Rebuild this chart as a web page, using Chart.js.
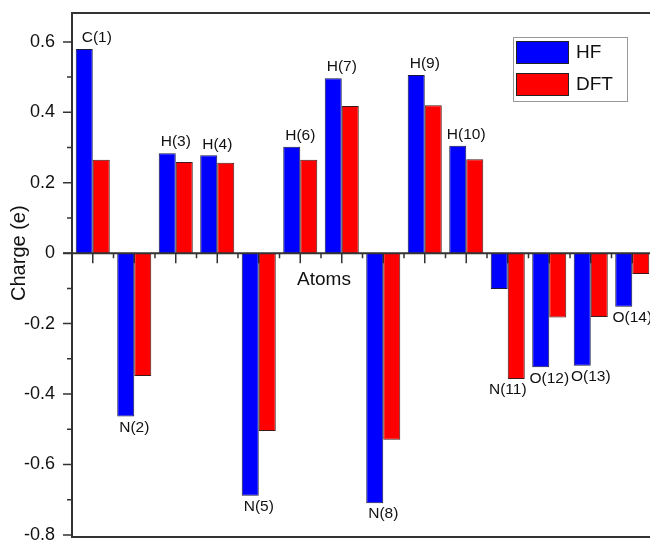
<!DOCTYPE html>
<html>
<head>
<meta charset="utf-8">
<script src="https://cdn.jsdelivr.net/npm/chart.js@4.4.0/dist/chart.umd.min.js"></script>
<style>
  html, body { margin: 0; padding: 0; background: #fff; overflow: hidden; }
  #wrap { width: 660px; height: 540px; }
</style>
</head>
<body>
<div id="wrap"><canvas id="charges"></canvas></div>
<script>
// Mulliken charges per atom
const atoms = ['C(1)', 'N(2)', 'H(3)', 'H(4)', 'N(5)', 'H(6)', 'H(7)', 'N(8)', 'H(9)', 'H(10)', 'N(11)', 'O(12)', 'O(13)', 'O(14)'];
const hfCharge = [0.580, -0.464, 0.284, 0.278, -0.689, 0.302, 0.497, -0.710, 0.506, 0.305, -0.102, -0.324, -0.320, -0.152];
const dftCharge = [0.265, -0.349, 0.259, 0.257, -0.505, 0.265, 0.418, -0.530, 0.420, 0.267, -0.357, -0.183, -0.181, -0.059];
const yTicks = [-0.8, -0.6, -0.4, -0.2, 0, 0.2, 0.4, 0.6];

const FONT = '"Liberation Sans", Arial, Helvetica, sans-serif';
const AXIS = '#333';

// axis frame, minor ticks, atom labels and legend
const decor = {
    id: 'decor',
    beforeDatasetsDraw(chart) {
        const { ctx, scales: { x, y } } = chart;
        const y0 = y.getPixelForValue(0);
        ctx.save();
        ctx.strokeStyle = AXIS;
        ctx.lineWidth = 1.5;
        ctx.beginPath();
        atoms.forEach((_, i) => {
            const cx = x.getPixelForValue(i);
            ctx.moveTo(cx, y0); ctx.lineTo(cx, y0 + 10);
            const bx = cx + x.width / atoms.length / 2;
            ctx.moveTo(bx, y0); ctx.lineTo(bx, y0 + 5);
        });
        ctx.stroke();
        ctx.restore();
    },
    afterDraw(chart) {
        const { ctx, chartArea: a, scales: { x, y } } = chart;
        const y0 = y.getPixelForValue(0);
        ctx.save();
        ctx.strokeStyle = AXIS;
        ctx.lineWidth = 2;
        ctx.beginPath();
        ctx.moveTo(a.right + 5, a.top); ctx.lineTo(a.left, a.top);
        ctx.lineTo(a.left, a.bottom); ctx.lineTo(a.right + 5, a.bottom);
        ctx.moveTo(a.left - 9, y0); ctx.lineTo(a.right + 5, y0);
        ctx.stroke();

        // y ticks, major every 0.2, minor every 0.1
        ctx.lineWidth = 1.5;
        ctx.beginPath();
        for (let v = -0.8; v <= 0.61; v += 0.1) {
            const py = y.getPixelForValue(v);
            const major = Math.round(v * 10) % 2 === 0;
            ctx.moveTo(a.left - (major ? 9 : 5), py); ctx.lineTo(a.left, py);
        }
        ctx.stroke();

        // y title
        ctx.fillStyle = '#111';
        ctx.font = '20px ' + FONT;
        ctx.textAlign = 'center';
        ctx.textBaseline = 'middle';
        ctx.save();
        ctx.translate(19, y0);
        ctx.rotate(-Math.PI / 2);
        ctx.fillText('Charge (e)', 0, 0);
        ctx.restore();

        // x title sits just under the zero line
        ctx.font = '19px ' + FONT;
        ctx.fillText('Atoms', 324, y0 + 27);

        // atom labels
        ctx.font = '15.5px ' + FONT;
        atoms.forEach((name, i) => {
            const cx = x.getPixelForValue(i);
            const hi = Math.max(hfCharge[i], dftCharge[i]);
            const lo = Math.min(hfCharge[i], dftCharge[i]);
            const py = hi > 0 ? y.getPixelForValue(hi) - 11 : y.getPixelForValue(lo) + 11;
            ctx.fillText(name, cx + (i === 0 ? 4 : 0), py);
        });

        // legend box
        const lx = a.right - 140, ly = a.top + 24;
        ctx.strokeStyle = '#999';
        ctx.lineWidth = 1;
        ctx.strokeRect(lx + 0.5, ly + 0.5, 114, 64);
        ctx.textAlign = 'left';
        ctx.font = '19px ' + FONT;
        chart.data.datasets.forEach((ds, k) => {
            const sy = ly + 4 + k * 32;
            ctx.fillStyle = ds.backgroundColor;
            ctx.fillRect(lx + 3, sy, 53, 23);
            ctx.strokeStyle = '#222';
            ctx.strokeRect(lx + 3.5, sy + 0.5, 52, 22);
            ctx.fillStyle = '#111';
            ctx.fillText(ds.label, lx + 63, sy + 12);
        });
        ctx.restore();
    }
};

new Chart(document.getElementById('charges'), {
    type: 'bar',
    data: {
        labels: atoms,
        datasets: [{
            label: 'HF',
            data: hfCharge,
            backgroundColor: '#0000ff',
            borderColor: '#1a1a40',
            borderWidth: 1
        }, {
            label: 'DFT',
            data: dftCharge,
            backgroundColor: '#ff0000',
            borderColor: '#401a1a',
            borderWidth: 1
        }]
    },
    options: {
        responsive: true,
        maintainAspectRatio: false,
        animation: false,
        layout: { padding: { left: 0, top: 13, right: 7, bottom: 3 } },
        datasets: {
            bar: { categoryPercentage: 0.82, barPercentage: 1 }
        },
        plugins: {
            legend: { display: false },
            tooltip: { enabled: false }
        },
        scales: {
            x: {
                display: false,
                offset: true
            },
            y: {
                min: -0.806,
                max: 0.682,
                afterBuildTicks: s => { s.ticks = yTicks.map(v => ({ value: v })); },
                afterFit: s => {
                    s.width = 72;
                    s.paddingTop = 0;
                    s.paddingBottom = 0;
                },
                grid: { display: false, drawTicks: false },
                border: { display: false },
                ticks: {
                    padding: 17,
                    color: '#111',
                    font: { family: FONT, size: 18 },
                    callback: v => v === 0 ? '0' : v.toFixed(1)
                }
            }
        }
    },
    plugins: [decor]
});
</script>
</body>
</html>
